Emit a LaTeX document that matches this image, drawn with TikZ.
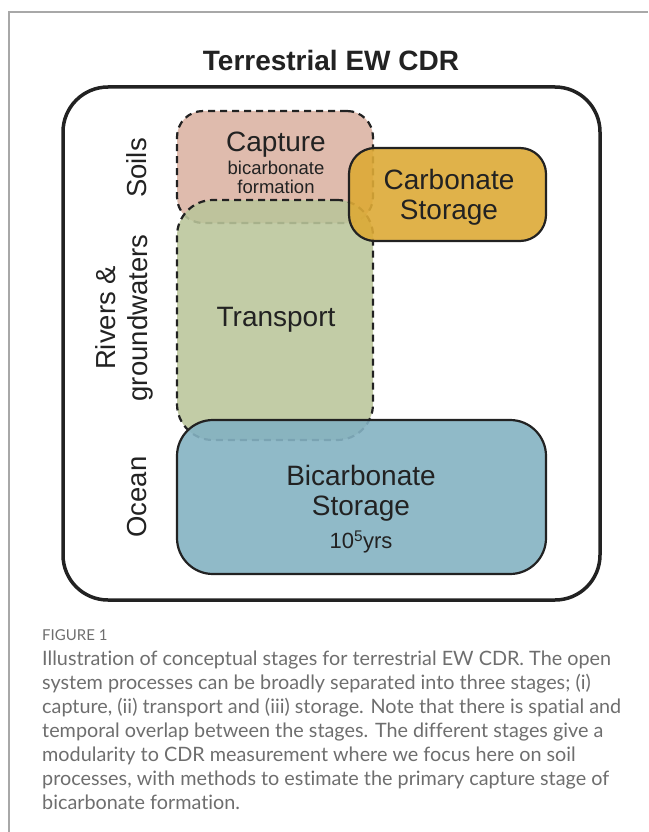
\documentclass[tikz,border=0pt]{standalone}
\usepackage{fontspec}
\setmainfont{Liberation Sans}
\newfontfamily\capfont[Ligatures=NoCommon]{Lato}
\definecolor{framegrey}{HTML}{A8A8A8}
\definecolor{ink}{HTML}{222222}
\definecolor{capturecol}{HTML}{DFBBAD}
\definecolor{transportcol}{HTML}{BAC59A}
\definecolor{carbcol}{HTML}{DDAA36}
\definecolor{bicarbcol}{HTML}{84B2C2}
\definecolor{captiongrey}{HTML}{6E6E6E}
\begin{document}
\begin{tikzpicture}[x=1pt,y=-1pt,
  stagebox/.style={draw=ink, line width=2.2pt, dash pattern=on 7pt off 5pt, inner sep=0pt},
  storebox/.style={draw=ink, line width=2.2pt, inner sep=0pt},
  biglabel/.style={text=ink, font=\fontsize{28}{30}\selectfont, align=center, inner sep=0pt},
  smalllabel/.style={text=ink, font=\fontsize{18.5}{19}\selectfont, align=center, inner sep=0pt},
  sidelabel/.style={text=ink, font=\fontsize{27.5}{32}\selectfont, align=center, rotate=90, inner sep=0pt}]
\useasboundingbox (0,0) rectangle (648,832);
\draw[framegrey, line width=1.5pt] (648,12) -- (9,12) -- (9,832);
% title
\node[text=ink, font=\bfseries\fontsize{28}{32}\selectfont, inner sep=0pt] (title) at (331,60) {Terrestrial EW CDR};
% outer box
\node[draw=ink, line width=3.5pt, rounded corners=45pt, minimum width=537pt, minimum height=513pt, inner sep=0pt] (outer) at (331.5,343.5) {};
% capture
\node[stagebox, fill=capturecol, rounded corners=26pt, minimum width=196pt, minimum height=112pt] (capture) at (275,167) {};
% transport
\node[stagebox, fill=transportcol, fill opacity=0.88, rounded corners=36pt, minimum width=196pt, minimum height=240pt] (transport) at (275,320) {};
% carbonate storage
\node[storebox, fill=carbcol, fill opacity=0.9, rounded corners=26pt, minimum width=197pt, minimum height=93pt] (carb) at (447.5,194.5) {};
% bicarbonate storage
\node[storebox, fill=bicarbcol, fill opacity=0.9, rounded corners=36pt, minimum width=369pt, minimum height=154pt] (bicarb) at (361.5,497) {};
% labels
\node[biglabel] (capt) at (276,145) {Capture};
\node[smalllabel] (captsub) at (276,177) {bicarbonate\\formation};
\node[biglabel] (carbt) at (449,197) {Carbonate\\Storage};
\node[biglabel] (transt) at (276,320) {Transport};
\node[biglabel] (bicarbt) at (361,493) {Bicarbonate\\Storage};
\node[text=ink, font=\fontsize{22}{24}\selectfont, inner sep=0pt] (years) at (361,542) {10\textsuperscript{5}yrs};
% side labels
\node[sidelabel] (soils) at (137,168) {Soils};
\node[sidelabel] (rivers) at (124,318) {Rivers \&\\groundwaters};
\node[sidelabel] (ocean) at (137,497) {Ocean};
% caption
\node[anchor=west, text=captiongrey, font=\capfont\fontsize{15}{16}\selectfont, inner sep=0pt] (fig) at (42,635) {FIGURE 1};
\node[anchor=north west, text=captiongrey, font=\capfont\fontsize{19.8}{24}\selectfont, align=left, inner sep=0pt] (caption) at (42,651) {Illustration of conceptual stages for terrestrial EW CDR. The open\\
system processes can be broadly separated into three stages; (i)\\
capture, (ii) transport and (iii) storage. Note that there is spatial and\\
temporal overlap between the stages. The different stages give a\\
modularity to CDR measurement where we focus here on soil\\
processes, with methods to estimate the primary capture stage of\\
bicarbonate formation.};
\end{tikzpicture}
\end{document}
